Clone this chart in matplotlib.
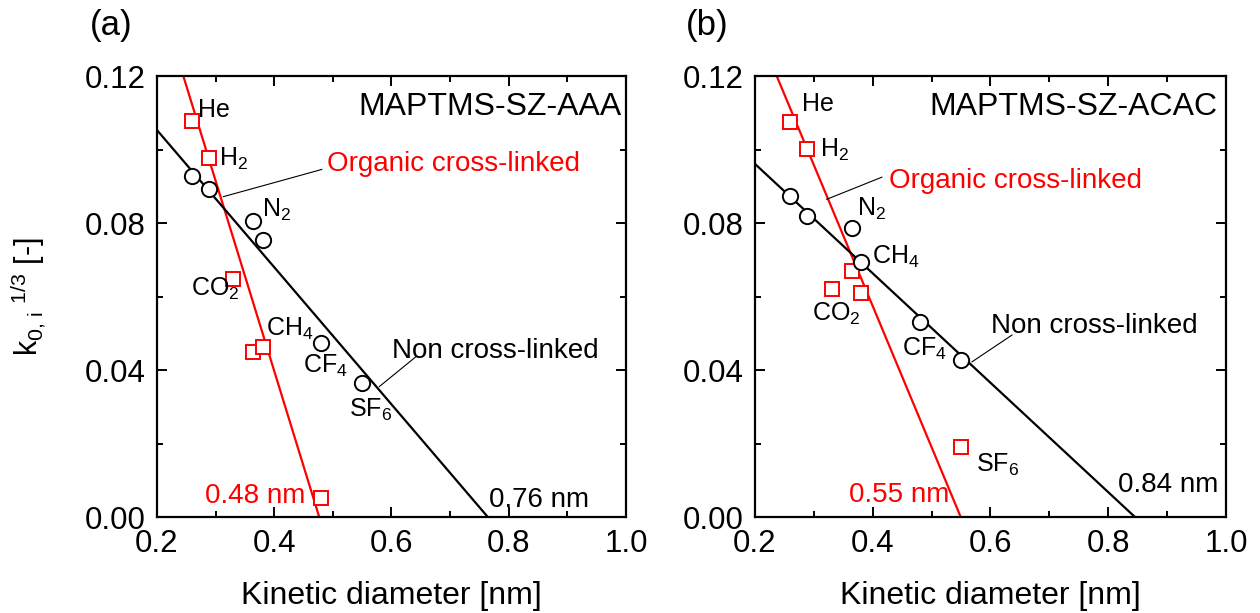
import matplotlib
matplotlib.use("Agg")
import matplotlib.pyplot as plt
from matplotlib.ticker import MultipleLocator

plt.rcParams["font.family"] = ["Liberation Sans", "DejaVu Sans"]
plt.rcParams["mathtext.fontset"] = "custom"
plt.rcParams["mathtext.rm"] = "Liberation Sans"
plt.rcParams["mathtext.it"] = "Liberation Sans:italic"

# kinetic diameters [nm]
D = {"He": 0.26, "H2": 0.289, "CO2": 0.33, "N2": 0.364, "CH4": 0.38, "CF4": 0.48, "SF6": 0.55}

# panel (a) MAPTMS-SZ-AAA
a_sq_gas = ["He", "H2", "CO2", "N2", "CH4", "CF4"]
a_sq_k = [0.1078, 0.0978, 0.0647, 0.0450, 0.0463, 0.0054]
a_ci_gas = ["He", "H2", "N2", "CH4", "CF4", "SF6"]
a_ci_k = [0.0928, 0.0892, 0.0806, 0.0754, 0.0473, 0.0365]
a_red_fit = ([0.2449, 0.477], [0.12, 0.0])
a_blk_fit = ([0.2, 0.765], [0.1053, 0.0])

# panel (b) MAPTMS-SZ-ACAC
b_sq_gas = ["He", "H2", "CO2", "N2", "CH4", "SF6"]
b_sq_k = [0.1076, 0.1001, 0.0622, 0.0669, 0.0609, 0.0191]
b_ci_gas = ["He", "H2", "N2", "CH4", "CF4", "SF6"]
b_ci_k = [0.0874, 0.0819, 0.0786, 0.0695, 0.0531, 0.0427]
b_red_fit = ([0.2369, 0.5498], [0.12, 0.0])
b_blk_fit = ([0.2, 0.8463], [0.0961, 0.0])

RED = "#ff0000"


def extend(fit):
    (x0, x1), (y0, y1) = fit
    m = (y1 - y0) / (x1 - x0)
    xs = [0.1, 1.1]
    return xs, [y0 + m * (x - x0) for x in xs]


def gas_label(g):
    names = {"He": "He", "H2": "H$_2$", "CO2": "CO$_2$", "N2": "N$_2$",
             "CH4": "CH$_4$", "CF4": "CF$_4$", "SF6": "SF$_6$"}
    return names[g]


def panel(ax, sq_gas, sq_k, ci_gas, ci_k, red_fit, blk_fit, title, labels,
          red_txt, blk_txt, leaders):
    xs, ys = extend(red_fit)
    ax.plot(xs, ys, color=RED, lw=1.6, zorder=2)
    xs, ys = extend(blk_fit)
    ax.plot(xs, ys, color="black", lw=1.6, zorder=2)
    ax.plot([D[g] for g in sq_gas], sq_k, ls="none", marker="s", ms=9.5,
            mfc="white", mec=RED, mew=1.4, zorder=3)
    ax.plot([D[g] for g in ci_gas], ci_k, ls="none", marker="o", ms=11,
            mfc="white", mec="black", mew=1.4, zorder=4)

    for g, (x, y) in labels.items():
        ax.text(x, y, gas_label(g), fontsize=18, va="baseline", ha="left")
    ax.text(*red_txt[1], red_txt[0], color=RED, fontsize=20, va="baseline")
    ax.text(*blk_txt[1], blk_txt[0], fontsize=20, va="baseline")
    for (x0, y0), (x1, y1) in leaders:
        ax.plot([x0, x1], [y0, y1], color="black", lw=0.8)
    ax.text(*title[1], title[0], fontsize=23, ha="right", va="baseline")

    ax.set_xlim(0.2, 1.0)
    ax.set_ylim(0.0, 0.12)
    ax.xaxis.set_major_locator(MultipleLocator(0.2))
    ax.xaxis.set_minor_locator(MultipleLocator(0.1))
    ax.yaxis.set_major_locator(MultipleLocator(0.04))
    ax.yaxis.set_minor_locator(MultipleLocator(0.02))
    ax.xaxis.set_major_formatter(matplotlib.ticker.FormatStrFormatter("%.1f"))
    ax.yaxis.set_major_formatter(matplotlib.ticker.FormatStrFormatter("%.2f"))
    ax.tick_params(which="both", direction="in", top=True, right=True,
                   width=1.4, labelsize=22.5)
    ax.tick_params(which="major", length=7.5, pad=8)
    ax.tick_params(which="minor", length=4)
    for s in ax.spines.values():
        s.set_linewidth(1.6)
    ax.set_xlabel("Kinetic diameter [nm]", fontsize=23, labelpad=16)


fig = plt.figure(figsize=(12.6, 6.13), dpi=100)
ax1 = fig.add_axes([0.1246, 0.1558, 0.3722, 0.7202])
ax2 = fig.add_axes([0.5992, 0.1558, 0.3738, 0.7202])

panel(ax1, a_sq_gas, a_sq_k, a_ci_gas, a_ci_k, a_red_fit, a_blk_fit,
      ("MAPTMS-SZ-AAA", (0.993, 0.1094)),
      {"He": (0.270, 0.1089), "H2": (0.3058, 0.0955), "N2": (0.3792, 0.0817),
       "CO2": (0.2580, 0.0602), "CH4": (0.3860, 0.0493), "CF4": (0.4491, 0.0392),
       "SF6": (0.5276, 0.0275)},
      ("Organic cross-linked", (0.4901, 0.0942)),
      ("Non cross-linked", (0.6010, 0.0433)),
      [((0.4811, 0.0946), (0.3131, 0.0872)), ((0.6432, 0.0439), (0.5794, 0.0356))])
ax1.text(0.2819, 0.0039, "0.48 nm", color=RED, fontsize=20, va="baseline")
ax1.text(0.7666, 0.0029, "0.76 nm", fontsize=20, va="baseline")

panel(ax2, b_sq_gas, b_sq_k, b_ci_gas, b_ci_k, b_red_fit, b_blk_fit,
      ("MAPTMS-SZ-ACAC", (0.9862, 0.1094)),
      {"He": (0.2799, 0.1105), "H2": (0.3105, 0.098), "N2": (0.3735, 0.0819),
       "CH4": (0.3990, 0.0689), "CO2": (0.2969, 0.0534), "CF4": (0.4500, 0.0439),
       "SF6": (0.5759, 0.0124)},
      ("Organic cross-linked", (0.4279, 0.0896)),
      ("Non cross-linked", (0.6014, 0.0501)),
      [((0.4155, 0.0925), (0.3219, 0.0865)), ((0.6366, 0.0496), (0.5685, 0.0423))])
ax2.text(0.3599, 0.0042, "0.55 nm", color=RED, fontsize=20, va="baseline")
ax2.text(0.8173, 0.0069, "0.84 nm", fontsize=20, va="baseline")

fig.text(28 / 1260, 1 - 297 / 613,
         r"$\mathregular{k_{0,\,i}\;{}^{1/3}}$ [-]",
         rotation=90, fontsize=22, ha="center", va="center")
fig.text(111 / 1260, 1 - 25 / 613, "(a)", fontsize=25, ha="center", va="center")
fig.text(707 / 1260, 1 - 25 / 613, "(b)", fontsize=25, ha="center", va="center")

fig.savefig("out.png", dpi=100)
